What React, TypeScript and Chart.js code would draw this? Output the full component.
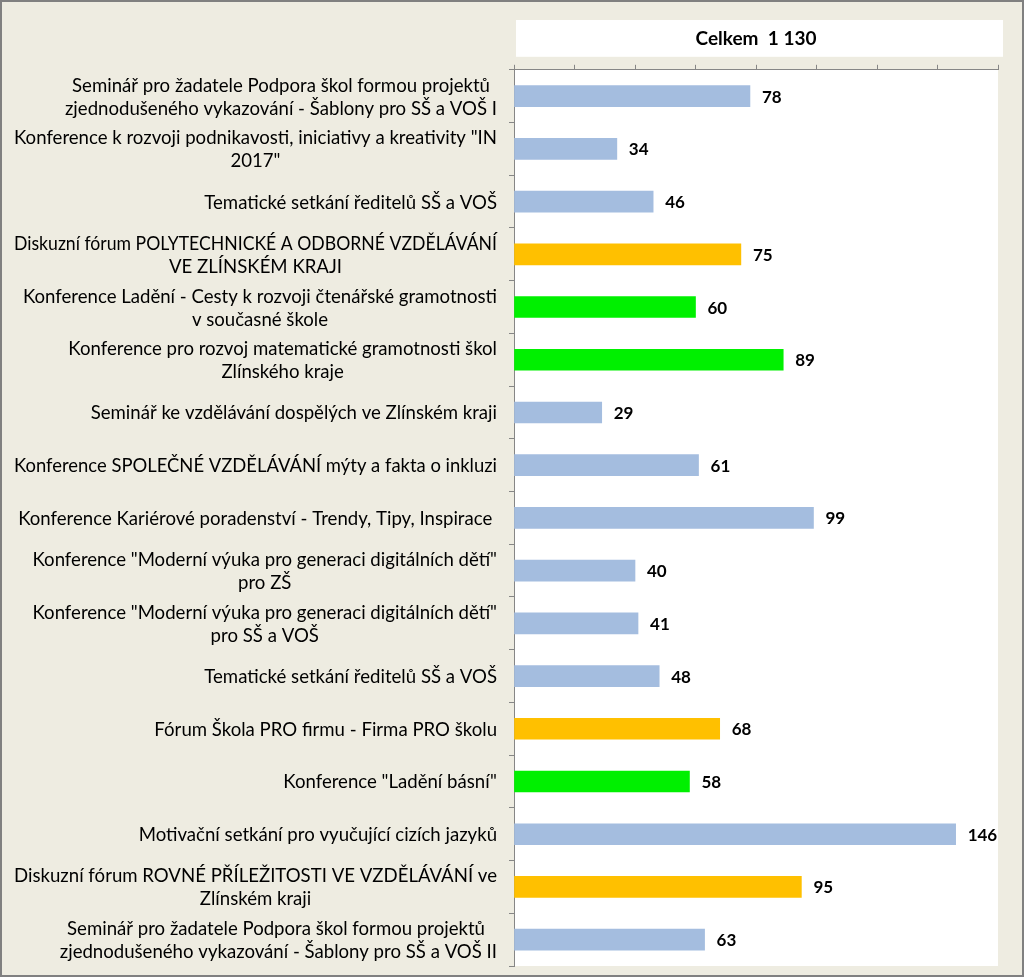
import React, { useEffect, useRef } from "react";
import { Chart, registerables } from "chart.js";

Chart.register(...registerables);

const categories: string[][] = [
  ["Seminář pro žadatele Podpora škol formou projektů", "zjednodušeného vykazování - Šablony pro SŠ a VOŠ I"],
  ["Konference k rozvoji podnikavosti, iniciativy a kreativity \"IN", "2017\""],
  ["Tematické setkání ředitelů SŠ a VOŠ"],
  ["Diskuzní fórum POLYTECHNICKÉ A ODBORNÉ VZDĚLÁVÁNÍ", "VE ZLÍNSKÉM KRAJI"],
  ["Konference Ladění - Cesty k rozvoji čtenářské gramotnosti", "v současné škole"],
  ["Konference pro rozvoj matematické gramotnosti škol", "Zlínského kraje"],
  ["Seminář ke vzdělávání dospělých ve Zlínském kraji"],
  ["Konference SPOLEČNÉ VZDĚLÁVÁNÍ mýty a fakta o inkluzi"],
  ["Konference Kariérové poradenství - Trendy, Tipy, Inspirace "],
  ["Konference \"Moderní výuka pro generaci digitálních dětí\"", "pro ZŠ"],
  ["Konference \"Moderní výuka pro generaci digitálních dětí\"", "pro SŠ a VOŠ"],
  ["Tematické setkání ředitelů SŠ a VOŠ"],
  ["Fórum Škola PRO firmu - Firma PRO školu"],
  ["Konference \"Ladění básní\""],
  ["Motivační setkání pro vyučující cizích jazyků"],
  ["Diskuzní fórum ROVNÉ PŘÍLEŽITOSTI VE VZDĚLÁVÁNÍ ve", "Zlínském kraji"],
  ["Seminář pro žadatele Podpora škol formou projektů ", "zjednodušeného vykazování - Šablony pro SŠ a VOŠ II"],
];

const values: number[] = [78, 34, 46, 75, 60, 89, 29, 61, 99, 40, 41, 48, 68, 58, 146, 95, 63];

const BLUE = "#A4BDDF";
const ORANGE = "#FFC000";
const GREEN = "#00F000";
const barColors: string[] = [
  BLUE, BLUE, BLUE, ORANGE, GREEN, GREEN, BLUE, BLUE, BLUE,
  BLUE, BLUE, BLUE, ORANGE, GREEN, BLUE, ORANGE, BLUE,
];

const titleText = "Celkem  1 130";
const xMin = 0;
const xMax = 160;
const xStep = 20;

const FAMILY = "Lato, 'Open Sans', sans-serif";
const LABEL_FONT = "18.6px " + FAMILY;
const VALUE_FONT = "bold 17px " + FAMILY;

export default function App() {
  const canvasRef = useRef<HTMLCanvasElement | null>(null);

  useEffect(() => {
    const canvas = canvasRef.current;
    if (!canvas) return;

    const decorPlugin = {
      id: "decor",
      beforeDraw(chart: any) {
        const { ctx, chartArea } = chart;
        ctx.save();
        ctx.fillStyle = "#EEECE1";
        ctx.fillRect(0, 0, chart.width, chart.height);
        ctx.fillStyle = "#FFFFFF";
        ctx.fillRect(chartArea.left, chartArea.top, chartArea.right - chartArea.left, chartArea.bottom - chartArea.top);
        const tb = chart.titleBlock;
        if (tb) {
          ctx.fillRect(chartArea.left + 2, tb.top, chartArea.right - chartArea.left + 3, tb.bottom - tb.top);
        }
        ctx.restore();
      },
      afterDraw(chart: any) {
        const { ctx, chartArea } = chart;
        const yScale = chart.scales.y;
        ctx.save();
        ctx.font = LABEL_FONT;
        ctx.fillStyle = "#000000";
        ctx.textAlign = "center";
        ctx.textBaseline = "middle";
        const lineH = 23;
        const rightEdge = chartArea.left - 17;
        const maxAllowed = rightEdge - 14;
        categories.forEach((lines, i) => {
          const yc = yScale.getPixelForValue(i) + 1;
          let maxW = 0;
          lines.forEach((l) => {
            maxW = Math.max(maxW, Math.min(maxAllowed, ctx.measureText(l).width));
          });
          const cx = rightEdge - maxW / 2;
          const start = yc - ((lines.length - 1) * lineH) / 2;
          lines.forEach((l, j) => {
            ctx.fillText(l, cx, start + j * lineH, maxAllowed);
          });
        });
        ctx.strokeStyle = "#808080";
        ctx.lineWidth = 2;
        ctx.strokeRect(1, 1, chart.width - 2, chart.height - 2);
        ctx.restore();
      },
      afterDatasetsDraw(chart: any) {
        const { ctx } = chart;
        const meta = chart.getDatasetMeta(0);
        ctx.save();
        ctx.font = VALUE_FONT;
        ctx.fillStyle = "#000000";
        ctx.textAlign = "left";
        ctx.textBaseline = "middle";
        meta.data.forEach((bar: any, i: number) => {
          ctx.fillText(String(values[i]), bar.x + 12, bar.y + 1);
        });
        ctx.restore();
      },
    };

    const chart = new Chart(canvas, {
      type: "bar",
      data: {
        labels: categories.map((l) => l.join(" ")),
        datasets: [
          {
            data: values,
            backgroundColor: barColors,
            borderWidth: 0,
            barThickness: 21,
          },
        ],
      },
      options: {
        indexAxis: "y",
        responsive: false,
        animation: false,
        layout: { padding: { top: 20, left: 0, right: 26, bottom: 11 } },
        plugins: {
          legend: { display: false },
          tooltip: { enabled: false },
          title: {
            display: true,
            text: titleText,
            fullSize: false,
            color: "#000000",
            font: { family: FAMILY, size: 19, weight: "bold" },
            padding: { top: 7, bottom: 7 },
          },
        },
        scales: {
          x: {
            type: "linear",
            position: "top",
            min: xMin,
            max: xMax,
            ticks: { display: false, stepSize: xStep },
            grid: { drawOnChartArea: false, drawTicks: true, tickLength: 5, color: "#868686" },
            border: { display: true, color: "#868686", width: 1 },
            afterFit(scale: any) {
              scale.height = 13;
            },
          },
          y: {
            type: "category",
            ticks: { display: false },
            grid: { drawOnChartArea: false, drawTicks: true, tickLength: 5, offset: true, color: "#868686" },
            border: { display: true, color: "#868686", width: 1 },
            afterFit(scale: any) {
              scale.width = 514;
            },
          },
        },
      },
      plugins: [decorPlugin],
    } as any);

    return () => {
      chart.destroy();
    };
  }, []);

  return (
    <div style={{ position: "fixed", left: 0, top: 0, width: 1024, height: 977 }}>
      <canvas ref={canvasRef} width={1024} height={977} style={{ display: "block", width: 1024, height: 977 }} />
    </div>
  );
}
